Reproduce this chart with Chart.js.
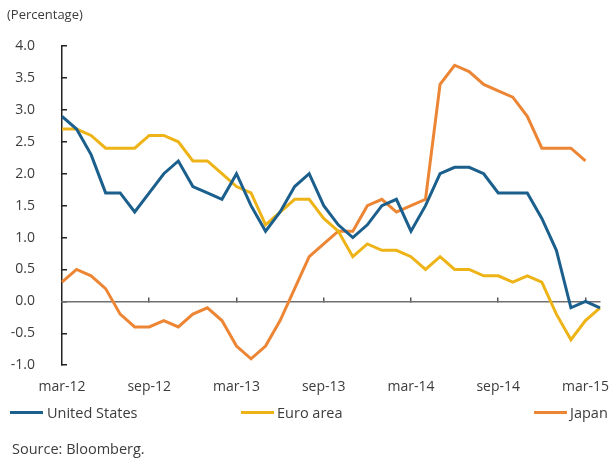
<!DOCTYPE html>
<html>
<head>
<meta charset="utf-8">
<script src="https://cdn.jsdelivr.net/npm/chart.js@4.4.1/dist/chart.umd.min.js"></script>
<style>
  html, body { margin: 0; padding: 0; background: #ffffff; }
  #wrap { position: relative; width: 613px; height: 461px; font-family: "Open Sans", sans-serif; color: #3c3c3c; }
  #c { position: absolute; left: 0; top: 0; }
  .lg { position: absolute; font-size: 14.5px; line-height: 18px; white-space: nowrap; }
  .sw { position: absolute; height: 3px; width: 33px; }
  #src { position: absolute; left: 12px; top: 440px; font-size: 14.5px; line-height: 18px; }
</style>
</head>
<body>
<div id="wrap">
  <canvas id="c" width="613" height="461"></canvas>
  <div class="sw" style="left:10px; top:411px; background:#1b5f8d;"></div>
  <div class="lg" style="left:47px; top:404px;">United States</div>
  <div class="sw" style="left:241px; top:411px; background:#eeb417;"></div>
  <div class="lg" style="left:277px; top:404px;">Euro area</div>
  <div class="sw" style="left:534px; top:411px; background:#ec8534;"></div>
  <div class="lg" style="left:570px; top:404px;">Japan</div>
  <div id="src">Source: Bloomberg.</div>
</div>
<script>
const months = [
  "mar-12","apr-12","may-12","jun-12","jul-12","aug-12","sep-12","oct-12","nov-12","dec-12","jan-13","feb-13",
  "mar-13","apr-13","may-13","jun-13","jul-13","aug-13","sep-13","oct-13","nov-13","dec-13","jan-14","feb-14",
  "mar-14","apr-14","may-14","jun-14","jul-14","aug-14","sep-14","oct-14","nov-14","dec-14","jan-15","feb-15",
  "mar-15","apr-15"
];
const unitedStates = [2.9,2.7,2.3,1.7,1.7,1.4,1.7,2.0,2.2,1.8,1.7,1.6,2.0,1.5,1.1,1.4,1.8,2.0,1.5,1.2,1.0,1.2,1.5,1.6,1.1,1.5,2.0,2.1,2.1,2.0,1.7,1.7,1.7,1.3,0.8,-0.1,0.0,-0.1];
const euroArea = [2.7,2.7,2.6,2.4,2.4,2.4,2.6,2.6,2.5,2.2,2.2,2.0,1.8,1.7,1.2,1.4,1.6,1.6,1.3,1.1,0.7,0.9,0.8,0.8,0.7,0.5,0.7,0.5,0.5,0.4,0.4,0.3,0.4,0.3,-0.2,-0.6,-0.3,-0.1];
const japan = [0.3,0.5,0.4,0.2,-0.2,-0.4,-0.4,-0.3,-0.4,-0.2,-0.1,-0.3,-0.7,-0.9,-0.7,-0.3,0.2,0.7,0.9,1.1,1.1,1.5,1.6,1.4,1.5,1.6,3.4,3.7,3.6,3.4,3.3,3.2,2.9,2.4,2.4,2.4,2.2,null];
const yTicks = [-1.0,-0.5,0.0,0.5,1.0,1.5,2.0,2.5,3.0,3.5,4.0];
const labelEvery = 6;

const txt = "#3c3c3c";
const fontFam = "'Open Sans', sans-serif";

new Chart(document.getElementById("c"), {
  type: "line",
  data: {
    labels: months,
    datasets: [
      { label: "United States", data: unitedStates, borderColor: "#1b5f8d", backgroundColor: "#1b5f8d" },
      { label: "Euro area", data: euroArea, borderColor: "#eeb417", backgroundColor: "#eeb417" },
      { label: "Japan", data: japan, borderColor: "#ec8534", backgroundColor: "#ec8534" }
    ]
  },
  options: {
    responsive: false,
    animation: false,
    devicePixelRatio: 1,
    layout: { padding: { left: 7, right: 11, top: 0, bottom: 53 } },
    elements: {
      line: { borderWidth: 3, tension: 0, borderCapStyle: "butt", borderJoinStyle: "miter" },
      point: { radius: 0, hoverRadius: 0 }
    },
    plugins: {
      legend: { display: false },
      tooltip: { enabled: false },
      title: {
        display: true, text: "(Percentage)", align: "start", color: txt,
        font: { family: fontFam, size: 13, weight: "normal" },
        padding: { top: 7, bottom: 23.5 }
      }
    },
    scales: {
      y: {
        min: -1, max: 4,
        afterFit: s => { s.width = 55; },
        afterBuildTicks: s => { s.ticks = yTicks.map(v => ({ value: v })); },
        border: { display: true, color: "#222", width: 1.5 },
        grid: { drawOnChartArea: false, drawTicks: true, tickLength: -5, color: "#222", lineWidth: 1.5 },
        ticks: {
          color: txt, padding: 32,
          font: { family: fontFam, size: 14 },
          callback: v => Number(v).toFixed(1)
        }
      },
      x: {
        position: { y: 0 },
        afterFit: s => { s.height = 0; },
        border: { display: true, color: "#707070", width: 1.5 },
        grid: {
          drawOnChartArea: false, drawTicks: true, tickLength: -5, lineWidth: 1.5,
          color: ctx => (ctx.index % labelEvery === 0 && ctx.index > 0) ? "#555" : "rgba(0,0,0,0)"
        },
        ticks: { display: false, autoSkip: false }
      },
      x2: {
        type: "category",
        position: "bottom",
        border: { display: false },
        grid: { display: false, drawTicks: false },
        ticks: {
          autoSkip: false, maxRotation: 0, minRotation: 0, padding: 13, color: txt,
          font: { family: fontFam, size: 14 },
          callback: (v, i) => (i % labelEvery === 0 ? months[i] : "")
        }
      }
    }
  }
});
</script>
</body>
</html>
